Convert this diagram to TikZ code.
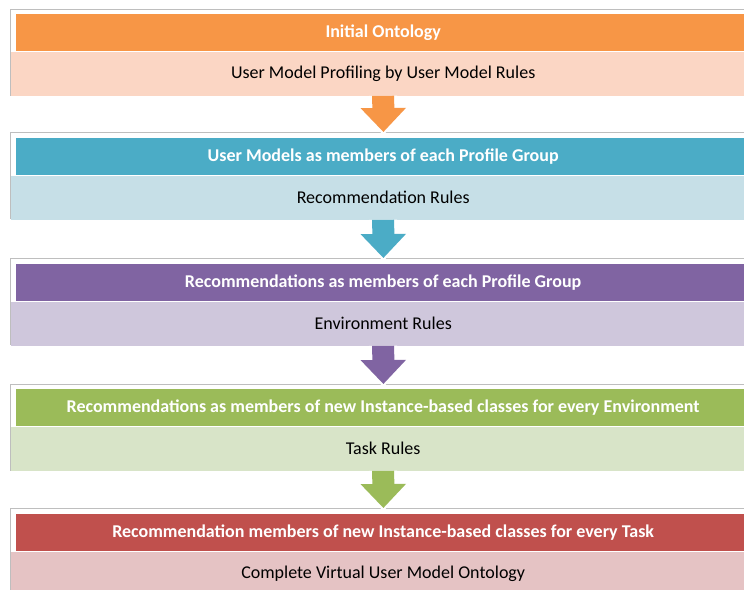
\documentclass[tikz,border=0pt]{standalone}
\usepackage{fontspec}
\setmainfont{Carlito}
\usetikzlibrary{positioning,arrows.meta}
\definecolor{orangehd}{RGB}{247,150,70}
\definecolor{orangesb}{RGB}{251,214,196}
\definecolor{tealhd}{RGB}{75,172,198}
\definecolor{tealsb}{RGB}{198,223,231}
\definecolor{purplehd}{RGB}{128,100,162}
\definecolor{purplesb}{RGB}{207,199,220}
\definecolor{greenhd}{RGB}{155,187,89}
\definecolor{greensb}{RGB}{216,228,200}
\definecolor{redhd}{RGB}{192,80,77}
\definecolor{redsb}{RGB}{229,195,196}
\definecolor{framegray}{RGB}{190,190,190}
\tikzset{
  frm/.style ={draw=framegray, line width=0.8pt, fill=white, anchor=north west,
               inner sep=0pt, minimum width=746pt, minimum height=86pt},
  hd/.style  ={fill=#1, text=white, anchor=north west, inner sep=0pt,
               font=\bfseries\fontsize{18}{20}\selectfont,
               minimum width=734pt, minimum height=37pt},
  sb/.style  ={fill=#1, text=black, inner sep=0pt,
               font=\fontsize{18}{20}\selectfont,
               minimum width=744pt, minimum height=44pt},
  flow/.style={draw=#1, line width=22pt, -{Triangle[length=24pt,width=44pt]},
               preaction={draw=white, line width=28pt, shorten >=-3pt,
                          -{Triangle[length=28pt,width=54pt]}}},
}

\begin{document}
\begin{tikzpicture}[x=1pt,y=-1pt]
\useasboundingbox[fill=white] (0,0) rectangle (744,589);
% stage 1
\node[frm] (f1) at (10,9) {};
\node[hd=orangehd] (h1) at (16,14) {Initial Ontology};
\node[sb=orangesb,below=0pt of h1] (s1) {User Model Profiling by User Model Rules};
% stage 2
\node[frm] (f2) at (10,132) {};
\node[hd=tealhd] (h2) at (16,138) {User Models as members of each Profile Group};
\node[sb=tealsb,below=0pt of h2] (s2) {Recommendation Rules};
% stage 3
\node[frm] (f3) at (10,258) {};
\node[hd=purplehd] (h3) at (16,264) {Recommendations as members of each Profile Group};
\node[sb=purplesb,below=0pt of h3] (s3) {Environment Rules};
% stage 4
\node[frm] (f4) at (10,384) {};
\node[hd=greenhd] (h4) at (16,389) {Recommendations as members of new Instance-based classes for every Environment};
\node[sb=greensb,below=0pt of h4] (s4) {Task Rules};
% stage 5
\node[frm] (f5) at (10,508) {};
\node[hd=redhd] (h5) at (16,514) {Recommendation members of new Instance-based classes for every Task};
\node[sb=redsb,below=0pt of h5] (s5) {Complete Virtual User Model Ontology};
% block arrows between the stages
\draw[flow=orangehd] (s1.south) -- (f2.north);
\draw[flow=tealhd] (s2.south) -- (f3.north);
\draw[flow=purplehd] (s3.south) -- (f4.north);
\draw[flow=greenhd] (s4.south) -- (f5.north);
\end{tikzpicture}
\end{document}
